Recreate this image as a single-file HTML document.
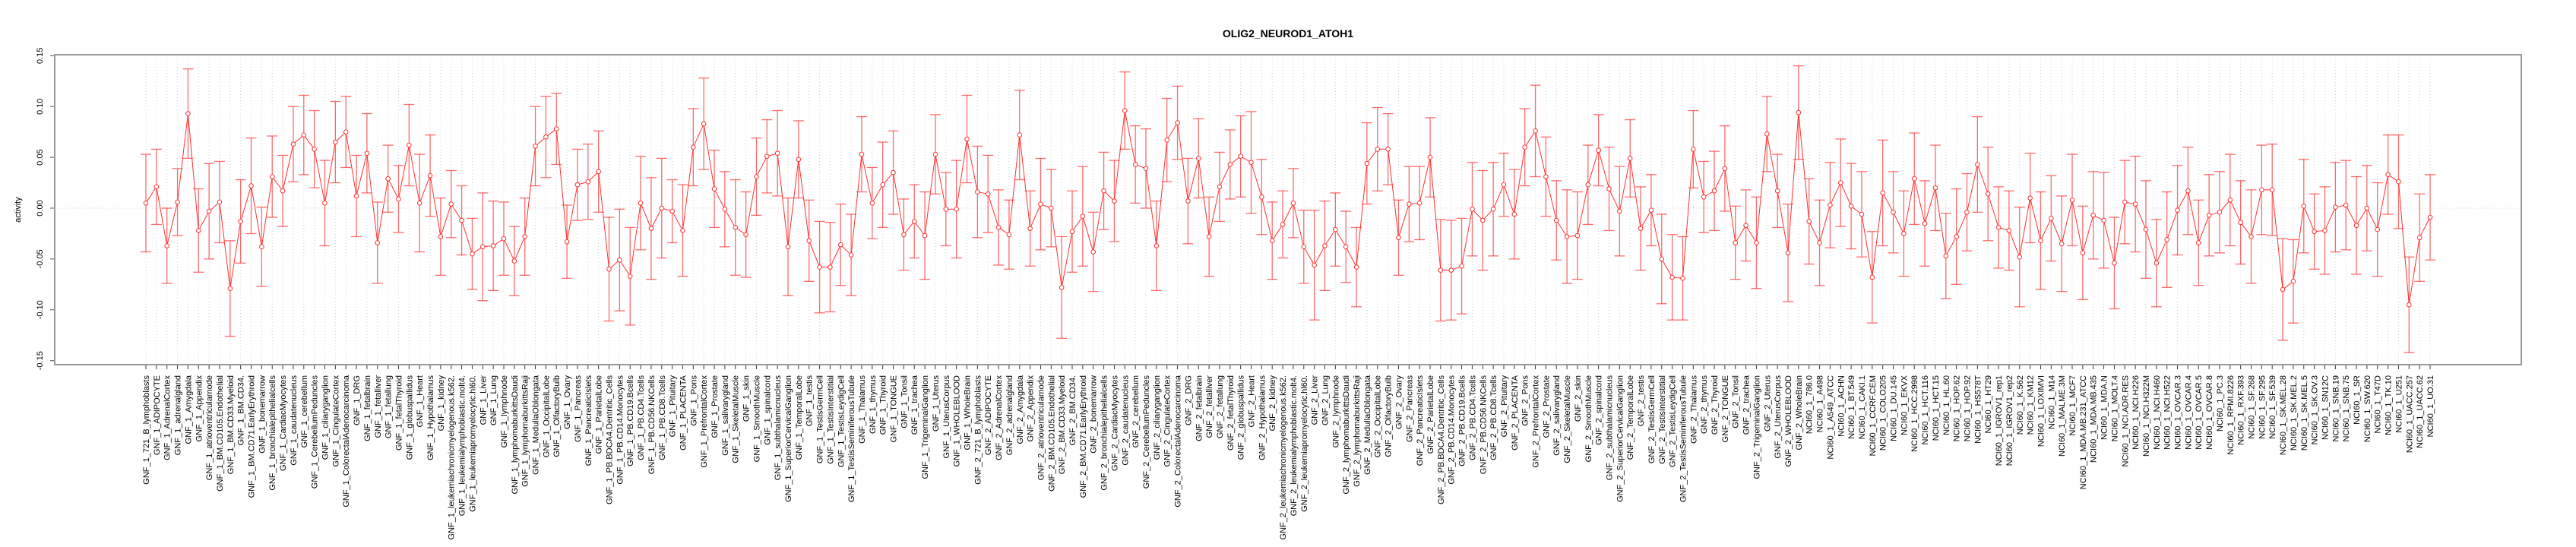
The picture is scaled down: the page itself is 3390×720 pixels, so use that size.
<!DOCTYPE html>
<html>
<head>
<meta charset="utf-8">
<style>
html,body{margin:0;padding:0;background:#fff;}
svg{display:block;font-family:"Liberation Sans",sans-serif;}
</style>
</head>
<body>
<svg id="chart" width="3390" height="720" viewBox="0 0 3390 720" xmlns="http://www.w3.org/2000/svg">
<rect x="0" y="0" width="3390" height="720" fill="#fff"/>
<text x="1695" y="49" text-anchor="middle" font-size="14" font-weight="bold">OLIG2_NEUROD1_ATOH1</text>
<text x="27" y="276" text-anchor="middle" font-size="11" transform="rotate(-90 27 276)">activity</text>
<g id="grid"></g>
<g id="axes"></g>
<g id="marks"></g>
<rect x="72" y="72" width="3246" height="408" fill="none" stroke="#999" stroke-width="2"/>
</svg>
<script>
const tissues = ["721_B_lymphoblasts","ADIPOCYTE","AdrenalCortex","adrenalgland","Amygdala","Appendix","atrioventricularnode","BM.CD105.Endothelial","BM.CD33.Myeloid","BM.CD34.","BM.CD71.EarlyErythroid","bonemarrow","bronchialepithelialcells","CardiacMyocytes","caudatenucleus","cerebellum","CerebellumPeduncles","ciliaryganglion","CingulateCortex","ColorectalAdenocarcinoma","DRG","fetalbrain","fetalliver","fetallung","fetalThyroid","globuspallidus","Heart","Hypothalamus","kidney","leukemiachronicmyelogenous.k562.","leukemialymphoblastic.molt4.","leukemiapromyelocytic.hl60.","Liver","Lung","lymphnode","lymphomaburkittsDaudi","lymphomaburkittsRaji","MedullaOblongata","OccipitalLobe","OlfactoryBulb","Ovary","Pancreas","PancreaticIslets","ParietalLobe","PB.BDCA4.Dentritic_Cells","PB.CD14.Monocytes","PB.CD19.Bcells","PB.CD4.Tcells","PB.CD56.NKCells","PB.CD8.Tcells","Pituitary","PLACENTA","Pons","PrefrontalCortex","Prostate","salivarygland","SkeletalMuscle","skin","SmoothMuscle","spinalcord","subthalamicnucleus","SuperiorCervicalGanglion","TemporalLobe","testis","TestisGermCell","TestisInterstitial","TestisLeydigCell","TestisSeminiferousTubule","Thalamus","thymus","Thyroid","TONGUE","Tonsil","trachea","TrigeminalGanglion","Uterus","UterusCorpus","WHOLEBLOOD","WholeBrain"];
const nciLines = ["786.0","A498","A549_ATCC","ACHN","BT.549","CAKI.1","CCRF.CEM","COLO205","DU.145","EKVX","HCC.2998","HCT.116","HCT.15","HL.60","HOP.62","HOP.92","HS578T","HT29","IGROV1_rep1","IGROV1_rep2","K.562","KM12","LOXIMVI","M14","MALME.3M","MCF7","MDA.MB.231_ATCC","MDA.MB.435","MDA.N","MOLT.4","NCI.ADR.RES","NCI.H226","NCI.H322M","NCI.H460","NCI.H522","OVCAR.3","OVCAR.4","OVCAR.5","OVCAR.8","PC.3","RPMI.8226","RXF.393","SF.268","SF.295","SF.539","SK.MEL.28","SK.MEL.2","SK.MEL.5","SK.OV.3","SN12C","SNB.19","SNB.75","SR","SW.620","T47D","TK.10","U251","UACC.257","UACC.62","UO.31"];
const categories = tissues.map(t=>"GNF_1_"+t).concat(tissues.map(t=>"GNF_2_"+t)).concat(nciLines.map(t=>"NCI60_1_"+t));

const gnf1Values = [0.005,0.021,-0.037,0.006,0.093,-0.022,-0.003,0.006,-0.079,-0.013,0.022,-0.038,0.031,0.017,0.063,0.072,0.058,0.005,0.065,0.075,0.012,0.054,-0.034,0.029,0.009,0.062,0.005,0.032,-0.028,
0.004,-0.012,-0.045,-0.038,-0.037,-0.030,-0.052,-0.028,0.061,0.070,0.078,-0.033,0.023,0.026,0.036,-0.060,-0.051,-0.067,0.005,-0.020,0.000,-0.003,-0.022,0.060,0.083,0.019,-0.001,-0.019,-0.026,0.031,
0.051,0.054,-0.038,0.048,-0.032,-0.058,-0.058,-0.036,-0.046,0.053,0.005,0.023,0.035,-0.026,-0.013,-0.027,0.053,-0.001,-0.001,0.068];
const gnf1Upper = [0.053,0.058,0.000,0.039,0.137,0.019,0.044,0.046,-0.032,0.028,0.069,0.001,0.071,0.052,0.100,0.111,0.096,0.047,0.105,0.110,0.052,0.093,0.006,0.062,0.042,0.102,0.053,0.072,0.010,
0.037,0.022,-0.010,0.015,0.007,0.006,-0.018,0.010,0.100,0.110,0.113,0.003,0.058,0.063,0.076,-0.009,-0.001,-0.019,0.051,0.030,0.049,0.028,0.023,0.098,0.128,0.057,0.036,0.028,0.016,0.069,
0.087,0.096,0.010,0.086,0.008,-0.013,-0.014,0.004,-0.006,0.090,0.040,0.065,0.076,0.009,0.023,0.016,0.092,0.035,0.047,0.111];
const gnf2Values = [0.016,0.014,-0.019,-0.026,0.072,-0.020,0.004,0.000,-0.078,-0.023,
-0.008,-0.043,0.017,0.007,0.096,0.043,0.039,-0.037,0.067,0.084,0.007,0.049,-0.028,0.021,0.043,0.051,0.045,0.011,-0.032,-0.016,0.005,-0.038,-0.056,-0.037,-0.021,-0.038,-0.058,0.044,0.058,0.058,
-0.029,0.004,0.005,0.050,-0.061,-0.061,-0.057,-0.001,-0.012,-0.001,0.023,-0.006,0.060,0.076,0.031,-0.012,-0.028,-0.027,0.023,0.057,0.019,-0.003,0.049,-0.020,-0.002,-0.050,-0.068,-0.069,0.058,0.011,
0.017,0.039,-0.034,-0.017,-0.034,0.073,0.017,-0.044,0.094];
const gnf2Upper = [0.061,0.052,0.018,0.008,0.116,0.017,0.049,0.038,-0.028,0.017,
0.041,-0.004,0.055,0.047,0.134,0.081,0.078,0.007,0.108,0.120,0.049,0.088,0.011,0.055,0.077,0.091,0.095,0.048,0.006,0.017,0.039,-0.002,-0.002,0.007,0.015,-0.003,-0.019,0.084,0.099,0.093,
0.008,0.041,0.041,0.089,-0.011,-0.012,-0.010,0.045,0.037,0.045,0.054,0.038,0.098,0.121,0.070,0.027,0.018,0.016,0.062,0.092,0.060,0.041,0.087,0.021,0.033,-0.006,-0.026,-0.028,0.096,0.046,
0.056,0.081,0.002,0.018,0.011,0.110,0.053,0.004,0.140];
const nciValues = [-0.013,-0.034,0.003,0.025,0.002,-0.006,-0.068,0.015,-0.004,-0.025,0.029,-0.015,0.020,-0.047,-0.028,-0.004,0.043,0.014,-0.019,-0.022,-0.048,
0.010,-0.032,-0.010,-0.035,0.008,-0.044,-0.007,-0.012,-0.054,0.006,0.004,-0.021,-0.054,-0.031,-0.002,0.017,-0.034,-0.007,-0.004,0.008,-0.014,-0.028,0.018,0.018,-0.080,-0.072,0.002,-0.023,-0.022,0.001,
0.003,-0.017,0.000,-0.021,0.033,0.026,-0.095,-0.029,-0.009];
const nciUpper = [0.029,0.008,0.045,0.068,0.044,0.036,-0.023,0.067,0.036,0.017,0.074,0.027,0.062,-0.005,0.019,0.034,0.090,0.060,0.021,0.017,0.001,
0.054,0.016,0.032,0.012,0.053,0.002,0.036,0.035,-0.009,0.047,0.051,0.027,-0.011,0.016,0.042,0.060,0.008,0.033,0.036,0.053,0.027,0.018,0.062,0.063,-0.030,-0.031,0.048,0.014,0.021,0.045,
0.047,0.031,0.042,0.025,0.072,0.072,-0.048,0.014,0.033];
const yTicks = [-0.15,-0.10,-0.05,0.00,0.05,0.10,0.15];
const yTickLabels = ["-0.15","-0.10","-0.05","0.00","0.05","0.10","0.15"];

const values = gnf1Values.concat(gnf2Values, nciValues);
const upper = gnf1Upper.concat(gnf2Upper, nciUpper);

const NS = "http://www.w3.org/2000/svg";
const PL = 72, PR = 3318, PT = 72, PB = 480;
const X0 = 192, X1 = 3198;
function xScale(i){ return X0 + i*(X1-X0)/(categories.length-1); }
function yScale(v){ return 274 - v*1338; }
function mk(tag, attrs, parent){
  const e = document.createElementNS(NS, tag);
  for (const k in attrs) e.setAttribute(k, attrs[k]);
  parent.appendChild(e);
  return e;
}
const grid = document.getElementById('grid');
const axes = document.getElementById('axes');
const marks = document.getElementById('marks');

// grid
for (let i=0;i<categories.length;i++){
  const x = xScale(i);
  const g = mk('line',{x1:x,x2:x,y1:PT,y2:PB,stroke:'#d0d0d0','stroke-width':1,'stroke-dasharray':'1,3'},grid);
  
  
}
const zl = mk('line',{x1:PL,x2:PR,y1:yScale(0),y2:yScale(0),stroke:'#d0d0d0','stroke-width':1,'stroke-dasharray':'1,3'},grid);



// y axis
for (let i=0;i<yTicks.length;i++){
  const y = yScale(yTicks[i]);
  const t = mk('line',{x1:66,x2:PL,y1:y,y2:y,stroke:'#555','stroke-width':1},axes);
  
  
  const l = mk('text',{x:56,y:y,'text-anchor':'middle','font-size':11,transform:'rotate(-90 56 '+y+')'},axes);
  l.textContent = yTickLabels[i];
  
  
}
// x axis
const xa = mk('line',{x1:xScale(0),x2:xScale(categories.length-1),y1:PB,y2:PB,stroke:'#333','stroke-width':1},axes);


for (let i=0;i<categories.length;i++){
  const x = xScale(i);
  const t = mk('line',{x1:x,x2:x,y1:PB,y2:PB+6,stroke:'#333','stroke-width':1},axes);
  
  
  const ty = 494;
  const l = mk('text',{x:x+4,y:ty,'text-anchor':'end','font-size':11,transform:'rotate(-90 '+(x+4)+' '+ty+')'},axes);
  l.textContent = categories[i];
  
  
}

// error bars
for (let i=0;i<values.length;i++){
  const x = xScale(i);
  const err = upper[i]-values[i];
  const yh = yScale(values[i]+err), yl = yScale(values[i]-err);
  const g = mk('g',{stroke:'#ff3030','stroke-opacity':0.7,'stroke-width':1.3},marks);
  
  
  mk('line',{x1:x,x2:x,y1:yh,y2:yl},g);
  mk('line',{x1:x-7,x2:x+7,y1:yh,y2:yh},g);
  mk('line',{x1:x-7,x2:x+7,y1:yl,y2:yl},g);
}
// line
let pts = [];
for (let i=0;i<values.length;i++) pts.push(xScale(i)+','+yScale(values[i]));
const pl = mk('polyline',{points:pts.join(' '),fill:'none',stroke:'#ff3030','stroke-width':1},marks);


for (let i=0;i<values.length;i++){
  const c = mk('circle',{cx:xScale(i),cy:yScale(values[i]),r:2.8,fill:'#fff',stroke:'#ff3030','stroke-width':1},marks);
  
  
}
</script>
</body>
</html>
